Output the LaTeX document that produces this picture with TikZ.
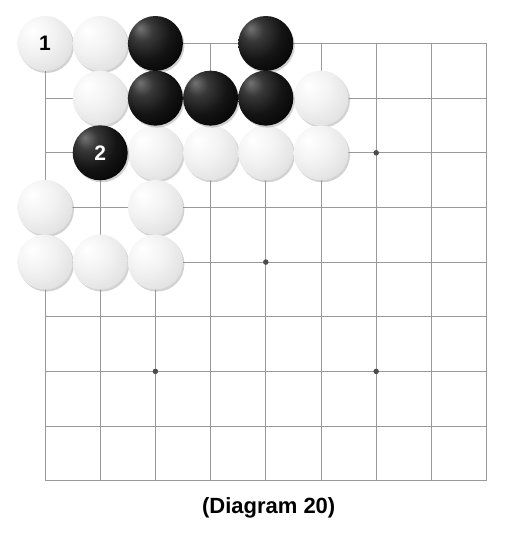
\documentclass[tikz,border=0pt]{standalone}
\usepackage{fontspec}
\setmainfont{Liberation Sans}
\usetikzlibrary{shadows}
\pgfdeclareradialshading{blackstone}{\pgfpoint{-14bp}{14bp}}{color(0bp)=(black!55); color(10bp)=(black!78); color(24bp)=(black!92); color(42bp)=(black); color(80bp)=(black)}
\pgfdeclareradialshading{whitestone}{\pgfpoint{-12bp}{12bp}}{color(0bp)=(white); color(18bp)=(white!95!black); color(38bp)=(white!87!black); color(55bp)=(white!73!black); color(80bp)=(white!66!black)}
\tikzset{
  gridline/.style={draw=black!40, line width=1pt},
  stone/.style={circle, minimum size=55pt, inner sep=0pt,
    font=\bfseries\fontsize{21}{21}\selectfont,
    drop shadow={shadow xshift=1.5pt, shadow yshift=-2pt, opacity=0.35}},
  bstone/.style={stone, shading=blackstone, text=white},
  wstone/.style={stone, shading=whitestone, text=black},
  starpt/.style={circle, fill=black!70, minimum size=5.5pt, inner sep=0pt},
  caption/.style={font=\bfseries\fontsize{22}{22}\selectfont, anchor=base, inner sep=0pt}
}
\begin{document}
\begin{tikzpicture}[x=1pt,y=-1pt]
\useasboundingbox[fill=white] (0,0) rectangle (530,540);
% grid
\foreach \i in {0,...,8} {
  \draw[gridline] ({45+55.2*\i},43.5) -- ({45+55.2*\i},480.7);
  \draw[gridline] (45,{43.5+54.65*\i}) -- (486.6,{43.5+54.65*\i});
}
% star points
\node[starpt] (s1) at (376.2,152.8) {};
\node[starpt] (s2) at (265.8,262.1) {};
\node[starpt] (s3) at (155.4,371.4) {};
\node[starpt] (s4) at (376.2,371.4) {};
% white stones
\node[wstone] (w1) at (45,43.5) {1};
\node[wstone] (w2) at (100.2,43.5) {};
\node[wstone] (w3) at (100.2,98.15) {};
\node[wstone] (w4) at (321,98.15) {};
\node[wstone] (w5) at (155.4,152.8) {};
\node[wstone] (w6) at (210.6,152.8) {};
\node[wstone] (w7) at (265.8,152.8) {};
\node[wstone] (w8) at (321,152.8) {};
\node[wstone] (w9) at (45,207.45) {};
\node[wstone] (w10) at (155.4,207.45) {};
\node[wstone] (w11) at (45,262.1) {};
\node[wstone] (w12) at (100.2,262.1) {};
\node[wstone] (w13) at (155.4,262.1) {};
% black stones
\node[bstone] (b1) at (155.4,43.5) {};
\node[bstone] (b2) at (265.8,43.5) {};
\node[bstone] (b3) at (155.4,98.15) {};
\node[bstone] (b4) at (210.6,98.15) {};
\node[bstone] (b5) at (265.8,98.15) {};
\node[bstone] (b6) at (100.2,152.8) {2};
% caption
\node[caption] (cap) at (268.7,513) {(Diagram 20)};
\end{tikzpicture}
\end{document}
